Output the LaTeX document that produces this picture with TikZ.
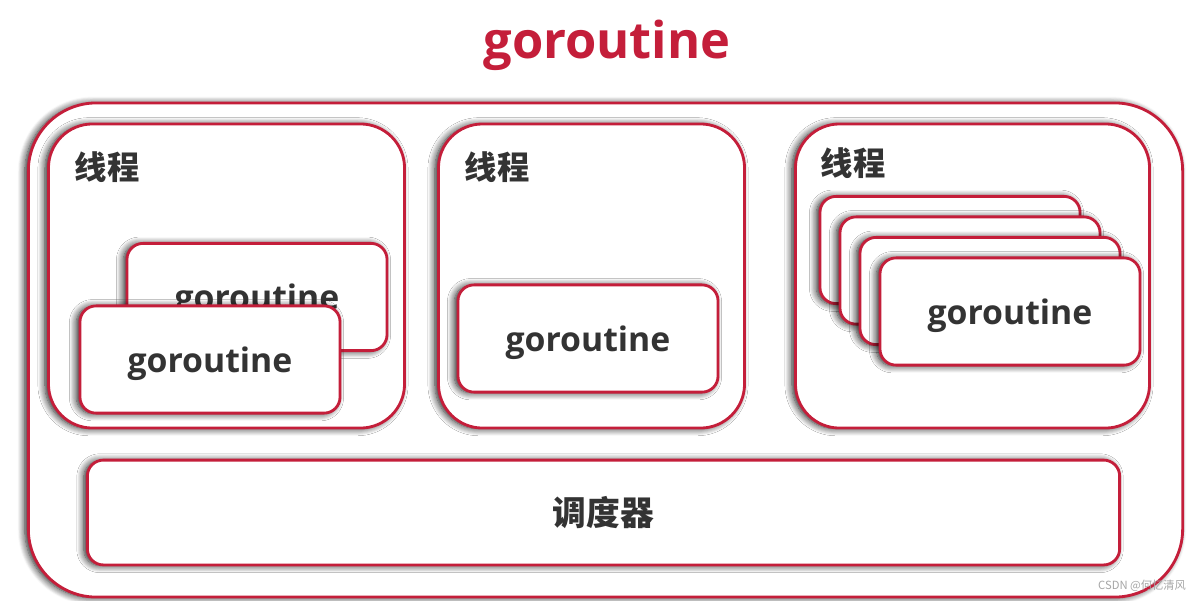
\documentclass[tikz,border=0pt]{standalone}
\usepackage{fontspec}
\setmainfont{Open Sans}
\newfontfamily\cjk{Noto Sans CJK SC}
\usepackage{tikz}
\usetikzlibrary{shadows.blur}

\definecolor{boxred}{HTML}{C41E3A}
\definecolor{textgray}{HTML}{333333}

\begin{document}
\begin{tikzpicture}[x=0.025cm, y=-0.025cm,
    box/.style={draw=boxred, line width=2pt, fill=white, inner sep=0pt,
      blur shadow={shadow xshift=-2.5pt, shadow yshift=-0.5pt, shadow blur radius=5pt, shadow blur steps=8, shadow opacity=90}},
    gobox/.style={box, rounded corners=0.4cm, minimum width=6.5cm, minimum height=2.68cm,
      font=\fontsize{24}{28}\selectfont\bfseries, text=textgray, text height=24pt, text depth=6pt},
    threadbox/.style={box, rounded corners=1.1cm, minimum height=7.6cm},
    cnlabel/.style={font=\cjk\fontsize{23}{26}\selectfont\bfseries, text=textgray, anchor=west}]
  \useasboundingbox (0,0) rectangle (1200,600);

  \node (title) at (607,45) {\fontsize{36}{40}\selectfont\bfseries\color{boxred}goroutine};

  \node [box, rounded corners=1.7cm, minimum width=28.85cm, minimum height=12.35cm] (outer) at (605.5,350) {};

  % threads
  \node [threadbox, minimum width=8.9cm] (threadA) at (226.5,276) {};
  \node [threadbox, minimum width=7.65cm] (threadB) at (591.5,276) {};
  \node [threadbox, minimum width=8.85cm] (threadC) at (972.5,276) {};

  \node [cnlabel] (labelA) at (70,167) {线程};
  \node [cnlabel] (labelB) at (460,167) {线程};
  \node [cnlabel] (labelC) at (816,163) {线程};

  % goroutines in thread A
  \node [gobox] (goA1) at (257,297) {goroutine};
  \node [gobox] (goA2) at (210,359.5) {goroutine};

  % goroutine in thread B
  \node [gobox] (goB1) at (588,338.5) {goroutine};

  % goroutines in thread C
  \node [gobox] (goC1) at (950,250) {};
  \node [gobox] (goC2) at (970,270.5) {};
  \node [gobox] (goC3) at (990,291) {};
  \node [gobox] (goC4) at (1010,311.5) {goroutine};

  % scheduler
  \node [box, rounded corners=0.4cm, minimum width=25.8cm, minimum height=2.62cm,
    font=\cjk\fontsize{24}{28}\selectfont\bfseries, text=textgray] (sched) at (603.5,512.5) {调度器};

  \node [text=gray!70, font=\cjk\fontsize{8}{9}\selectfont] (mark) at (1142,586) {CSDN @何忆清风};
\end{tikzpicture}
\end{document}
